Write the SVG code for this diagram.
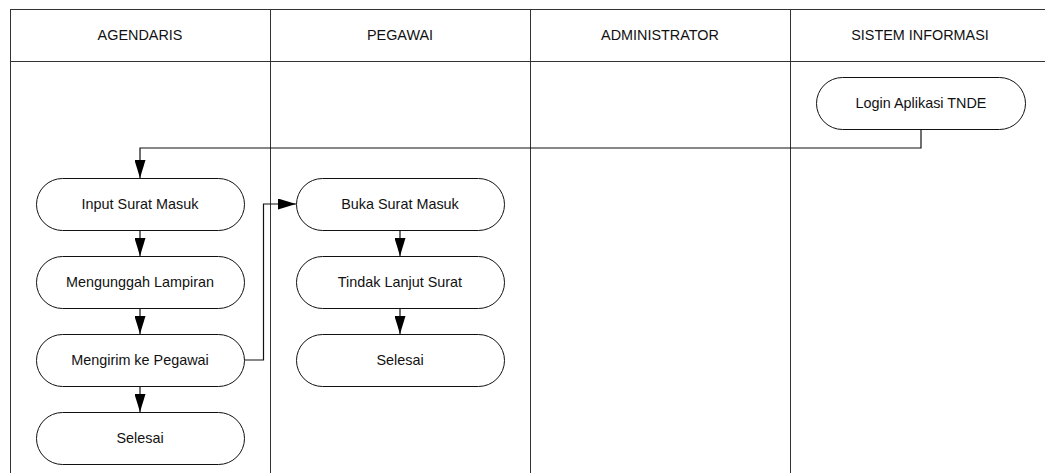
<svg xmlns="http://www.w3.org/2000/svg" width="1045" height="473" viewBox="0 0 1045 473">
<style>
.lane{fill:none;stroke:#333;stroke-width:1}
.hd{font-family:"Liberation Sans",Arial,sans-serif;font-size:14.4px;fill:#111;text-anchor:middle}
.nd rect{fill:#fff;stroke:#111;stroke-width:1}
.nd text{font-family:"Liberation Sans",Arial,sans-serif;font-size:14.4px;fill:#111;text-anchor:middle}
.cn{fill:none;stroke:#111;stroke-width:1.2}
</style>
<defs>
<marker id="ah2" viewBox="0 0 18 11" refX="18" refY="5.5" markerWidth="18" markerHeight="11" markerUnits="userSpaceOnUse" orient="auto">
<path d="M0,0 L18,5.5 L0,11 Z" fill="#000"/>
</marker>
</defs>
<rect width="1045" height="473" fill="#fff"/>
<g id="lanes">
<rect class="lane" x="10.5" y="9.5" width="1040" height="470"/>
<line class="lane" x1="10" y1="61.5" x2="1045" y2="61.5"/>
<line class="lane" x1="270.5" y1="9.5" x2="270.5" y2="473"/>
<line class="lane" x1="530.5" y1="9.5" x2="530.5" y2="473"/>
<line class="lane" x1="790.5" y1="9.5" x2="790.5" y2="473"/>
<text class="hd" x="140" y="40">AGENDARIS</text>
<text class="hd" x="400" y="40">PEGAWAI</text>
<text class="hd" x="660" y="40">ADMINISTRATOR</text>
<text class="hd" x="920" y="40">SISTEM INFORMASI</text>
</g>
<g id="connectors">
<polyline class="cn" points="921,129 921,148 140,148 140,178" marker-end="url(#ah2)"/>
<line class="cn" x1="140" y1="230" x2="140" y2="256" marker-end="url(#ah2)"/>
<line class="cn" x1="140" y1="308" x2="140" y2="334" marker-end="url(#ah2)"/>
<line class="cn" x1="140" y1="386" x2="140" y2="412" marker-end="url(#ah2)"/>
<polyline class="cn" points="244,360 263.5,360 263.5,204 296,204" marker-end="url(#ah2)"/>
<line class="cn" x1="400" y1="230" x2="400" y2="256" marker-end="url(#ah2)"/>
<line class="cn" x1="400" y1="308" x2="400" y2="334" marker-end="url(#ah2)"/>
</g>
<g id="login" class="nd"><rect x="816.5" y="77.5" width="209" height="52" rx="26"/><text x="921" y="108">Login Aplikasi TNDE</text></g>
<g id="input" class="nd"><rect x="36.5" y="178.5" width="208" height="52" rx="26"/><text x="140" y="209">Input Surat Masuk</text></g>
<g id="unggah" class="nd"><rect x="36.5" y="256.5" width="208" height="52" rx="26"/><text x="140" y="287">Mengunggah Lampiran</text></g>
<g id="kirim" class="nd"><rect x="36.5" y="334.5" width="208" height="52" rx="26"/><text x="140" y="365">Mengirim ke Pegawai</text></g>
<g id="selesai1" class="nd"><rect x="36.5" y="412.5" width="208" height="52" rx="26"/><text x="140" y="443">Selesai</text></g>
<g id="buka" class="nd"><rect x="296.5" y="178.5" width="208" height="52" rx="26"/><text x="400" y="209">Buka Surat Masuk</text></g>
<g id="tindak" class="nd"><rect x="296.5" y="256.5" width="208" height="52" rx="26"/><text x="400" y="287">Tindak Lanjut Surat</text></g>
<g id="selesai2" class="nd"><rect x="296.5" y="334.5" width="208" height="52" rx="26"/><text x="400" y="365">Selesai</text></g>
</svg>
